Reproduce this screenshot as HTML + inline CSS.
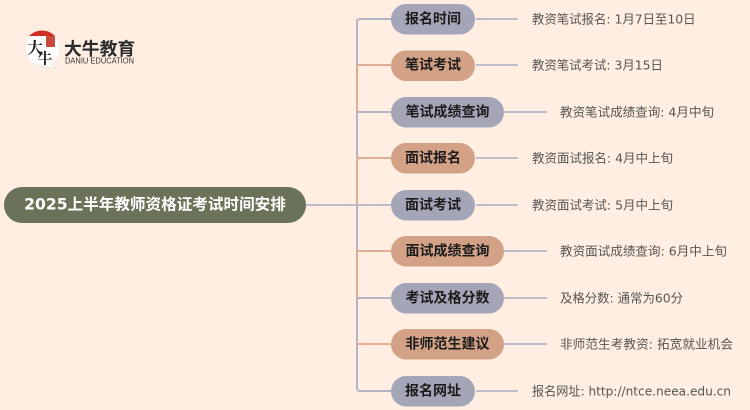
<!DOCTYPE html>
<html><head><meta charset="utf-8">
<style>
html,body{margin:0;padding:0;background:#ffeee1;width:750px;height:410px;overflow:hidden}
svg{display:block}
text{font-family:"DejaVu Sans","Noto Sans CJK SC",sans-serif}
.n{font-size:14px;font-weight:700;fill:#1c1c1c;text-anchor:middle;dominant-baseline:central}
.l{font-size:12.4px;fill:#555;dominant-baseline:central}
</style></head><body>
<svg width="750" height="410" viewBox="0 0 750 410" xmlns="http://www.w3.org/2000/svg">
<g fill="none" stroke-width="2">
<path d="M391 19H360Q357 19 357 22V65" stroke="#b4b4c6"/>
<path d="M357 65V112" stroke="#dfae95"/>
<path d="M391 65H357" stroke="#dfae95"/>
<path d="M391 112H357" stroke="#b4b4c6"/>
<path d="M357 112V158" stroke="#b4b4c6"/>
<path d="M391 158H360Q357 158 357 161V205" stroke="#dfae95"/>
<path d="M357 205V251" stroke="#b4b4c6"/>
<path d="M391 251H357" stroke="#dfae95"/>
<path d="M357 251V298" stroke="#dfae95"/>
<path d="M357 298V344" stroke="#b4b4c6"/>
<path d="M391 298H357" stroke="#b4b4c6"/>
<path d="M391 344H357" stroke="#eda98c"/>
<path d="M357 344V388Q357 391 360 391H391" stroke="#b4b4c6"/>
<path d="M306 205H391" stroke="#bdbccb"/>
<path d="M476 19H518M476 65H518M504 112H547M476 158H518M476 205H518M504 251H547M504 298H547M504 344H547M476 391H518" stroke="#bdbccb"/>
</g>
<rect x="4" y="187" width="302" height="36" rx="18" fill="#6a7259"/>
<text x="155" y="204.500" text-anchor="middle" dominant-baseline="central" font-size="15.600" font-weight="700" fill="#fff">2025上半年教师资格证考试时间安排</text>
<g fill="#a5a5b8">
<rect x="391" y="4" width="84" height="30.500" rx="15.250"/>
<rect x="391" y="97" width="113" height="30.500" rx="15.250"/>
<rect x="391" y="190" width="84" height="30.500" rx="15.250"/>
<rect x="391" y="283" width="113" height="30.500" rx="15.250"/>
<rect x="391" y="376" width="84" height="30.500" rx="15.250"/>
</g>
<g fill="#d2a186">
<rect x="391" y="50.500" width="84" height="30.500" rx="15.250"/>
<rect x="391" y="143" width="84" height="30.500" rx="15.250"/>
<rect x="391" y="236" width="113" height="30.500" rx="15.250"/>
<rect x="391" y="329" width="113" height="30.500" rx="15.250"/>
</g>
<text class="n" x="433" y="19.500">报名时间</text>
<text class="n" x="433" y="65.500">笔试考试</text>
<text class="n" x="447.500" y="112.500">笔试成绩查询</text>
<text class="n" x="433" y="158.500">面试报名</text>
<text class="n" x="433" y="205.500">面试考试</text>
<text class="n" x="447.500" y="251.500">面试成绩查询</text>
<text class="n" x="447.500" y="298.500">考试及格分数</text>
<text class="n" x="447.500" y="344.500">非师范生建议</text>
<text class="n" x="433" y="391.500">报名网址</text>
<text class="l" x="532" y="19">教资笔试报名: 1月7日至10日</text>
<text class="l" x="532" y="65">教资笔试考试: 3月15日</text>
<text class="l" x="560" y="112" textLength="154" lengthAdjust="spacingAndGlyphs">教资笔试成绩查询: 4月中旬</text>
<text class="l" x="532" y="158" textLength="141" lengthAdjust="spacingAndGlyphs">教资面试报名: 4月中上旬</text>
<text class="l" x="532" y="205" textLength="141" lengthAdjust="spacingAndGlyphs">教资面试考试: 5月中上旬</text>
<text class="l" x="560" y="251" textLength="167" lengthAdjust="spacingAndGlyphs">教资面试成绩查询: 6月中上旬</text>
<text class="l" x="560" y="298">及格分数: 通常为60分</text>
<text class="l" x="560" y="344" textLength="173" lengthAdjust="spacingAndGlyphs">非师范生考教资: 拓宽就业机会</text>
<text class="l" x="532" y="391" textLength="199" lengthAdjust="spacingAndGlyphs">报名网址: http://ntce.neea.edu.cn</text>
<path d="M42 30.500A18 18 0 0 1 60 48.500A18 18 0 0 1 50 64.500L57 69L45 66.500A18 18 0 1 1 42 30.500Z" fill="#fff" stroke="#ddd" stroke-width="0.500"/>
<path d="M29 36A18 18 0 0 1 55 36Z" fill="#d32f25"/>
<rect x="46" y="36" width="9" height="11" rx="1" fill="#c9483c"/>
<text x="35" y="47" text-anchor="middle" dominant-baseline="central" font-size="16" font-weight="700" fill="#222" style="font-family:'Noto Serif CJK SC',serif">大</text>
<text x="45" y="58" text-anchor="middle" dominant-baseline="central" font-size="15" font-weight="700" fill="#222" style="font-family:'Noto Serif CJK SC',serif">牛</text>
<text x="64" y="48" dominant-baseline="central" font-size="17.800" font-weight="700" fill="#2b2b2b" style="font-family:'Noto Sans CJK SC',sans-serif">大牛教育</text>
<text x="65" y="60.500" dominant-baseline="central" font-size="8.500" fill="#333" style="font-family:'Liberation Sans',sans-serif" textLength="69" lengthAdjust="spacingAndGlyphs">DANIU EDUCATION</text>
</svg>
</body></html>
